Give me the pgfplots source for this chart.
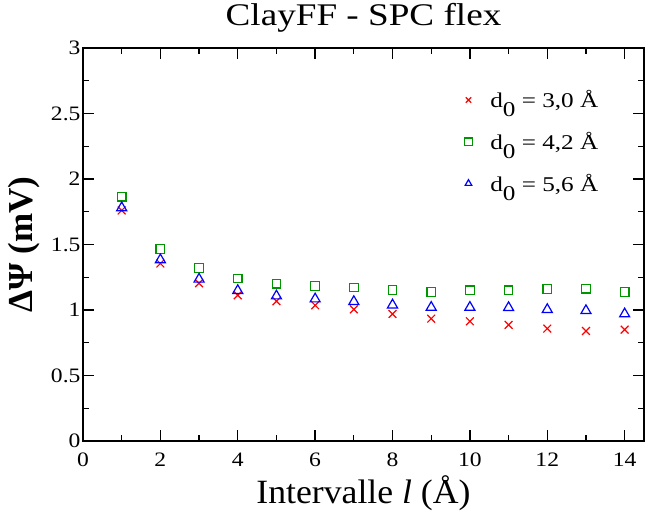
\documentclass[border=0pt]{standalone}
\usepackage{pgfplots}
\pgfplotsset{compat=1.18}
\usepackage{fontspec}
\setmainfont{Liberation Serif}
\newfontfamily\tickfont[FakeStretch=1.15]{Liberation Serif}
\newfontfamily\titlefont[FakeStretch=1.18]{Liberation Serif}
\newfontfamily\labfont[FakeStretch=1.05]{Liberation Serif}
\newfontfamily\legfont[FakeStretch=1.2]{Liberation Serif}
\definecolor{gGreen}{RGB}{0,150,0}
\newcommand{\dz}{d\raisebox{-0.42em}{0}}
\begin{document}
\begin{tikzpicture}
\path[use as bounding box] (-83pt,-73pt) rectangle (562pt,441pt);
\begin{axis}[
  at={(0pt,0pt)}, anchor=south west,
  scale only axis,
  width=561pt, height=393pt,
  xmin=0, xmax=14.5, ymin=0, ymax=3,
  xtick={0,2,...,14}, minor xtick={1,3,...,13},
  ytick={0,0.5,...,3}, minor ytick={0.25,0.75,...,2.75},
  yticklabels={0,0.5,1,1.5,2,2.5,3},
  tick align=inside,
  major tick length=11pt, minor tick length=6pt,
  tick style={line width=1.3pt, black},
  axis line style={line width=1.8pt},
  /pgf/number format/assume math mode=true,
  ticklabel style={font=\tickfont\fontsize{20.5}{22}\selectfont},
  xticklabel style={yshift=-8pt},
  yticklabel style={xshift=1pt},
  title={ClayFF - SPC flex},
  title style={font=\titlefont\fontsize{31.5}{33}\selectfont, at={(axis description cs:0.5,1)}, anchor=base, yshift=16pt},
  xlabel={Intervalle \textit{l} (Å)},
  xlabel style={font=\labfont\fontsize{34}{36}\selectfont, at={(axis description cs:0.5,0)}, anchor=base, yshift=-62pt},
  ylabel={\bfseries ΔΨ (mV)},
  ylabel style={font=\fontsize{35}{37}\selectfont, at={(axis description cs:-0.105,0.5)}, anchor=center, rotate=0},
  legend style={draw=none, fill=none, at={(axis description cs:0.68,0.897)}, anchor=north west,
     font=\legfont\fontsize{21}{23}\selectfont, row sep=19pt, column sep=16pt, inner sep=0pt,
     legend cell align=left},
  legend image code/.code={\draw[#1, mark size=3.8pt] plot coordinates {(0cm,0cm)};},
]
\addplot[only marks, red, mark=x, mark size=5.5pt, line width=1.2pt] coordinates {
(1,1.76)(2,1.355)(3,1.204)(4,1.112)(5,1.067)(6,1.036)(7,1.005)
(8,0.97)(9,0.934)(10,0.914)(11,0.886)(12,0.858)(13,0.84)(14,0.85)};
\addlegendentry{\dz\ = 3,0 Å}
\addplot[only marks, gGreen, mark=square, mark size=4.3pt, line width=1.2pt] coordinates {
(1,1.865)(2,1.466)(3,1.32)(4,1.24)(5,1.20)(6,1.184)(7,1.171)
(8,1.152)(9,1.137)(10,1.15)(11,1.15)(12,1.16)(13,1.162)(14,1.137)};
\addlegendentry{\dz\ = 4,2 Å}
\addplot[only marks, blue, mark=triangle, mark size=5.8pt, line width=1.2pt] coordinates {
(1,1.78)(2,1.383)(3,1.235)(4,1.148)(5,1.107)(6,1.084)(7,1.064)
(8,1.038)(9,1.02)(10,1.02)(11,1.018)(12,1.003)(13,0.995)(14,0.97)};
\addlegendentry{\dz\ = 5,6 Å}
\end{axis}
\end{tikzpicture}
\end{document}
